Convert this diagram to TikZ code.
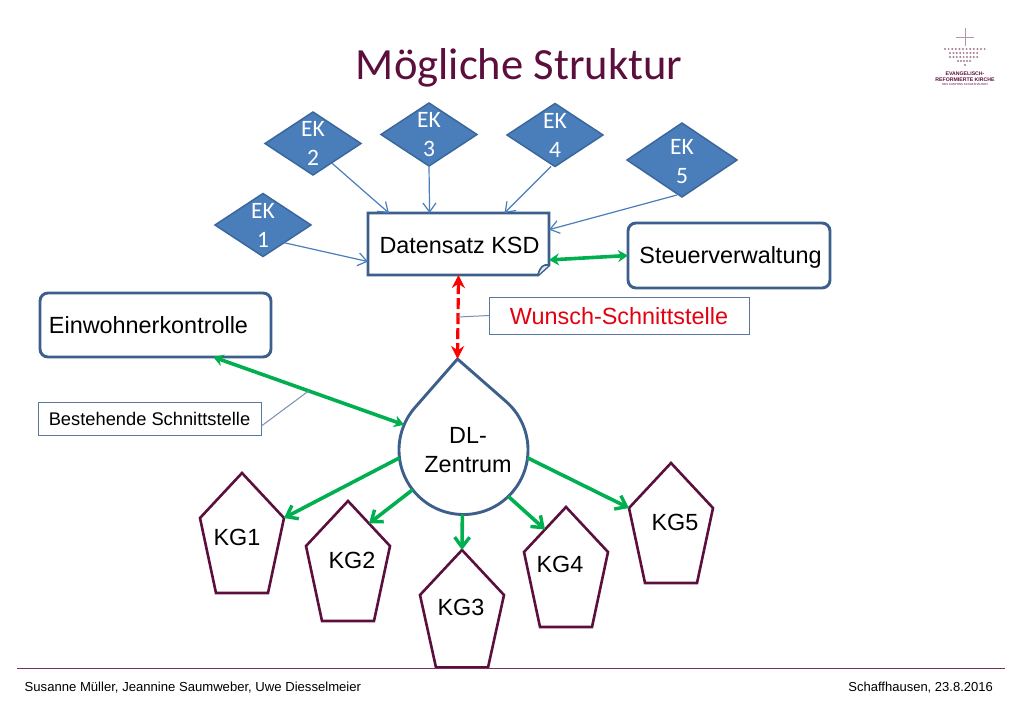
\documentclass[tikz,border=0pt]{standalone}
\usepackage{fontspec}
\setmainfont{Liberation Sans}
\newfontfamily\slidefont{Carlito}
\usetikzlibrary{calc,arrows.meta,shapes.geometric}
\definecolor{ekblue}{HTML}{4A7EBB}
\definecolor{ekline}{HTML}{3A679C}
\definecolor{boxblue}{HTML}{3D5F8C}
\definecolor{kgred}{HTML}{5C0F3D}
\definecolor{okgreen}{HTML}{00B050}
\definecolor{wishred}{HTML}{E3000F}
\newcommand{\kgnode}[5]{%
  \coordinate (#1) at (#2,#3);
  \coordinate (#1r) at ($(#1)+(42,45)$);
  \coordinate (#1l) at ($(#1)+(-42,45)$);
  \draw[kgshape] (#1) -- (#1r) -- ++(-16,#5) -- ++(-52,0) -- (#1l) -- cycle;
  \node[maintext] (#1txt) at #4 {\MakeUppercase{#1}};
}
\begin{document}
\begin{tikzpicture}[x=1pt,y=-1pt,
    maintext/.style={font=\fontsize{23.4}{29}\selectfont,inner sep=0pt},
    eknode/.style={diamond,draw=ekline,fill=ekblue,line width=1.5pt,inner sep=0pt,outer sep=0pt,
      minimum width=96pt,minimum height=63pt},
    ektext/.style={font=\slidefont\fontsize{23.5}{29}\selectfont,text=white,align=center,inner sep=0pt},
    ekarrow/.style={draw=ekblue,line width=1.2pt,-{Straight Barb[length=9pt,width=13pt]}},
    bigbox/.style={draw=boxblue,line width=2.9pt,rounded corners=8pt,inner sep=0pt,outer sep=0pt,fill=white},
    notebox/.style={draw=boxblue!85!white,line width=1pt,fill=white,inner sep=0pt,outer sep=0pt},
    noteline/.style={draw=boxblue!70!white,line width=1pt},
    kgshape/.style={draw=kgred,line width=2.6pt,fill=white,line join=miter},
    greenarrow/.style={draw=okgreen,line width=3.6pt,-{Straight Barb[length=10pt,width=15pt,line width=3.4pt]}},
    bothgreen/.style={draw=okgreen,line width=3.6pt,{Stealth[length=10pt,width=12pt]}-{Stealth[length=10pt,width=12pt]}},
    wisharrow/.style={draw=red,line width=3.2pt,dash pattern=on 11pt off 4pt,{Stealth[length=13pt,width=13pt]}-{Stealth[length=13pt,width=13pt]}}]
  \useasboundingbox (0,0) rectangle (1024,709);
  \fill[white] (0,0) rectangle (1024,709);

  \node[font=\slidefont\fontsize{44.6}{50}\selectfont,text=kgred,inner sep=0pt] (title) at (519,68) {Mögliche Struktur};

  % logo
  \coordinate (logocross) at (965,37);
  \draw[kgred!45!white,line width=.9pt] ($(logocross)+(0,-9)$) -- ($(logocross)+(0,9)$) ($(logocross)+(-9,0)$) -- ($(logocross)+(9,0)$);
  \foreach \rowy/\rowfrom/\rownext/\rowto in {49/945/948.6/985,53/950/953.4/980,57/950/953.4/980,61/958/961/972}
    \foreach \dotx in {\rowfrom,\rownext,...,\rowto}
      \fill[kgred!55!white] (\dotx,\rowy) circle (1.1pt);
  \fill[kgred!55!white] (965,65) circle (1.1pt);
  \node[font=\bfseries\fontsize{5.2}{6.2}\selectfont,text=kgred,align=center,inner sep=0pt] (logotext) at (965,76.5)
    {EVANGELISCH-\\REFORMIERTE KIRCHE};
  \node[font=\fontsize{2.9}{4}\selectfont,text=kgred,inner sep=0pt] (logosub) at (965,85) {DES KANTONS SCHAFFHAUSEN};

  \node[eknode,label={[ektext]center:EK\\1}] (ek1) at (263,225) {};
  \node[eknode,label={[ektext]center:EK\\2}] (ek2) at (313,143.5) {};
  \node[eknode,label={[ektext]center:EK\\3}] (ek3) at (429,134.5) {};
  \node[eknode,label={[ektext]center:EK\\4}] (ek4) at (555,135) {};
  \node[eknode,minimum width=110pt,minimum height=74pt,label={[ektext,yshift=-1.5pt]center:EK\\5}] (ek5) at (682,160) {};

  \node[minimum width=181pt,minimum height=62pt,inner sep=0pt,outer sep=0pt,label={[maintext,xshift=1pt,yshift=-1pt]center:Datensatz KSD}] (ksd) at (458.5,244) {};
  \draw[draw=boxblue,line width=2.9pt] (ksd.north west) -- (ksd.north east) -- ($(ksd.south east)+(0,-10)$)
    -- ($(ksd.south east)+(-11,0)$) -- (ksd.south west) -- cycle;
  \draw[draw=boxblue,line width=1.6pt,fill=boxblue!15!white] ($(ksd.south east)+(0,-10)$) .. controls ($(ksd.south east)+(-6,-11)$) and ($(ksd.south east)+(-9,-8)$) .. ($(ksd.south east)+(-11,0)$);

  \node[bigbox,minimum width=202pt,minimum height=65pt,label={[maintext,xshift=1.5pt,yshift=-1.5pt]center:Steuerverwaltung}] (steuer) at (729,255.5) {};
  \node[bigbox,minimum width=231pt,minimum height=64pt,label={[maintext,xshift=-7pt]center:Einwohnerkontrolle}] (einw) at (155.5,325) {};

  \draw[ekarrow] (ek1.-40) -- (ksd.191);
  \draw[ekarrow] (ek2.south east) ++(-5,4) -- (ksd.156);
  \draw[ekarrow] (ek3.south) -- (ksd.133.6);
  \draw[ekarrow] (ek4.south) ++(-4,0) -- (ksd.34.3);
  \draw[ekarrow] (ek5.south) ++(-5,-2) -- (ksd.9.4);

  \node[circle,inner sep=0pt,outer sep=0pt,minimum size=129pt] (dl) at (463.5,450) {};
  \coordinate (dltip) at (457.5,359);
  \draw[draw=boxblue,line width=2.9pt,line join=miter,fill=white] (dltip) -- (dl.49) arc[start angle=-49,end angle=221,radius=64.5] -- cycle;
  \node[maintext,align=center] (dltext) at (468,450) {DL-\\Zentrum};

  \kgnode{kg1}{242}{473}{(237,537.5)}{75}
  \kgnode{kg2}{348}{501}{(352,560.5)}{75}
  \kgnode{kg3}{462}{550}{(461,607.5)}{72.5}
  \kgnode{kg4}{566}{507}{(560,564.5)}{75}
  \kgnode{kg5}{671}{463}{(675,522.5)}{75}

  \draw[bothgreen] (ksd.-10.6) -- (steuer.west);
  \draw[wisharrow] (ksd.south) -- (dltip);
  \draw[bothgreen] (einw.-29.5) -- (dl.157);

  \draw[greenarrow] (dl.187) -- (kg1r);
  \draw[greenarrow] (dl.218) -- ($(kg2)!.5!(kg2r)$);
  \draw[greenarrow] (dl.269) -- (kg3);
  \draw[greenarrow] (dl.-46) -- ($(kg4)!.5!(kg4l)$);
  \draw[greenarrow] (dl.-7) -- (kg5l);

  \node[notebox,minimum width=260pt,minimum height=37pt,label={[maintext,text=wishred,yshift=-1pt]center:Wunsch-Schnittstelle}] (wunsch) at (619,315.5) {};
  \draw[noteline] (wunsch.west) -- ($(ksd.south)!.5!(dltip)$);
  \node[notebox,minimum width=223pt,minimum height=33pt,font=\fontsize{18.3}{22}\selectfont] (besteh) at (149.5,418.5) {Bestehende Schnittstelle};
  \draw[noteline] (besteh.-4) -- ($(einw.-29.5)!.5!(dl.157)$);

  \coordinate (footl) at (17,668.5);
  \coordinate (footr) at (1005,668.5);
  \draw[kgred!85!white,line width=1.4pt] (footl) -- (footr);
  \node[font=\fontsize{13.1}{15}\selectfont,inner sep=0pt,anchor=west] (names) at (24.5,688) {Susanne Müller, Jeannine Saumweber, Uwe Diesselmeier};
  \node[font=\fontsize{13}{15}\selectfont,inner sep=0pt,anchor=east] (place) at (993,688) {Schaffhausen, 23.8.2016};
\end{tikzpicture}
\end{document}
